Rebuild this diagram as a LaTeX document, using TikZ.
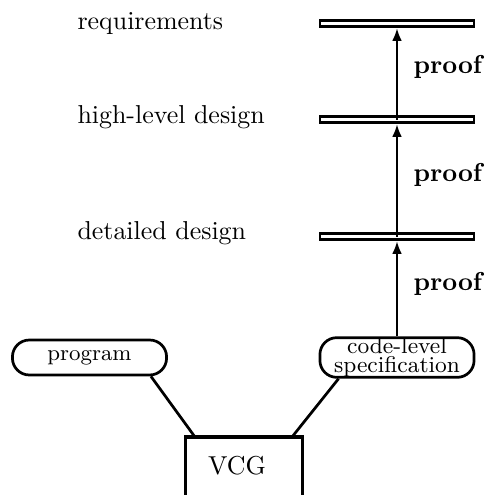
\documentclass[tikz,border=0pt]{standalone}
\usetikzlibrary{arrows.meta}
\begin{document}
\begin{tikzpicture}[x=0.386pt,y=-0.386pt,
  ln/.style={line width=1.05pt},
  bar/.style={draw,line width=1.05pt,minimum width=59.5pt,minimum height=2.4pt,inner sep=0pt,fill=white},
  pill/.style={draw,line width=1.05pt,rectangle,rounded corners=6.5pt,minimum width=59.5pt,inner sep=0pt,align=center},
  lvl/.style={anchor=base west,inner sep=0pt},
  prf/.style={anchor=base west,inner sep=0pt,font=\bfseries},
  arr/.style={line width=1.05pt,-{Latex[length=5pt,width=3.8pt]}}
]
\path[use as bounding box] (0,0) rectangle (486,495);
\clip (0,0) rectangle (486,495);
\node[lvl] (t1) at (77,29) {requirements};
\node[lvl] (t2) at (77,123) {high-level design};
\node[lvl] (t3) at (77,239) {detailed design};
\node[bar] (b1) at (397,23.5) {};
\node[bar] (b2) at (397,119.5) {};
\node[bar] (b3) at (397,236.5) {};
\node[prf] (p1) at (413,73) {proof};
\node[prf] (p2) at (413,181) {proof};
\node[prf] (p3) at (413,290) {proof};
\node[pill,minimum height=13.5pt,font=\fontsize{8.6}{8}\selectfont] (prog) at (89.5,357.5) {program};
\node[pill,minimum height=15pt,font=\fontsize{8.8}{7.5}\selectfont] (spec) at (397,357.5) {code-level\\specification};
\node[draw,line width=1.3pt,minimum width=45pt,minimum height=30pt,inner sep=0pt] (vcg) at (244,476) {};
\node (vcgt) at (237,466) {VCG};
\draw[arr] (b2.center) -- (b1.south);
\draw[arr] (b3.center) -- (b2.south);
\draw[arr] (spec.north) -- (b3.south);
\draw[ln] (prog.south east) ++(-17,0) coordinate (pa) -- (195,437) coordinate (va);
\draw[ln] (spec.south west) ++(20,0) coordinate (sa) -- (292,437) coordinate (vb);
\end{tikzpicture}
\end{document}
